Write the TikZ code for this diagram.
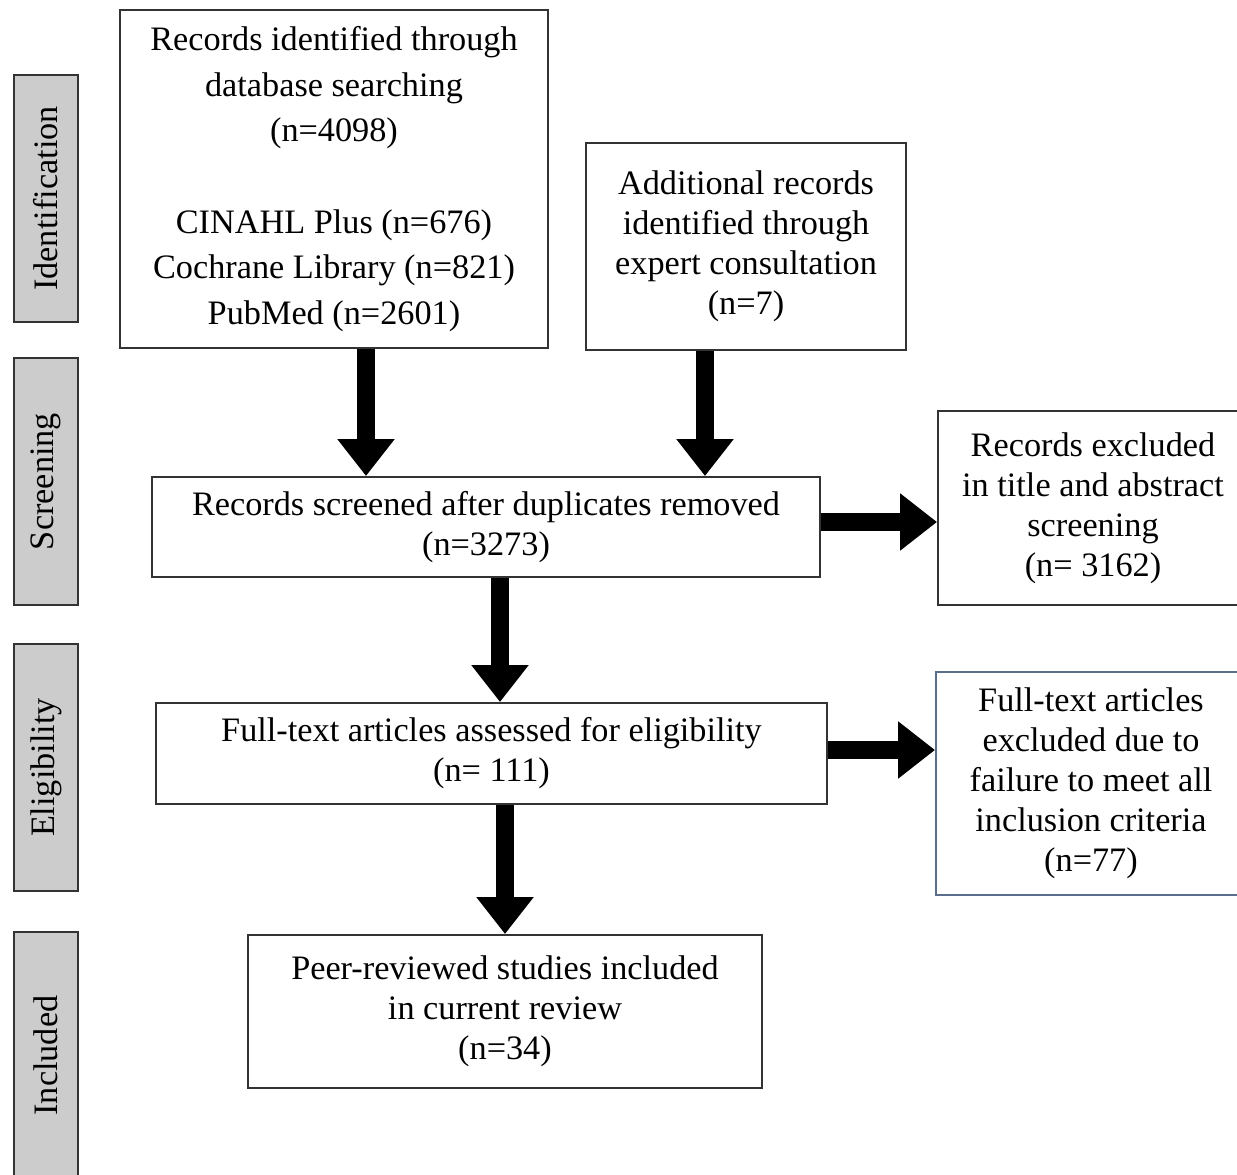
\documentclass[tikz,border=0pt]{standalone}
\usepackage{fontspec}
\setmainfont{Liberation Serif}
\usepackage{tikz}
\usetikzlibrary{arrows.meta, positioning, calc}
\definecolor{myEdge}{HTML}{333333}
\definecolor{myStage}{HTML}{CCCCCC}
\definecolor{mySlate}{HTML}{5A6E8C}

\begin{document}
\begin{tikzpicture}[
box/.style={rectangle, draw=myEdge, line width=1.1pt, align=center, font=\fontsize{19.5}{22.7}\selectfont, inner sep=0pt},
stage/.style={rectangle, draw=myEdge, fill=myStage, line width=1.1pt, rotate=90, font=\fontsize{19.5}{22.7}\selectfont, minimum width=4.94cm, minimum height=1.28cm, inner sep=0pt},
arrow/.style={-{Triangle[width=1.1cm, length=0.74cm]}, line width=0.36cm, black}
]
\useasboundingbox (0,0) rectangle (24.74,-23.5);

% stages
\node[stage] (ident) at (0.92,-3.97) {Identification};
\node[stage] (screen) at (0.92,-9.63) {Screening};
\node[stage] (elig) at (0.92,-15.35) {Eligibility};
\node[stage] (incl) at (0.92,-21.11) {Included};

% boxes
\node[box, minimum width=8.56cm, minimum height=6.76cm, font=\fontsize{19.5}{26}\selectfont] (db) at (6.68,-3.58)
  {Records identified through\\database searching\\(n=4098)\\[26pt]CINAHL Plus (n=676)\\Cochrane Library (n=821)\\PubMed (n=2601)};
\node[box, minimum width=6.4cm, minimum height=4.14cm] (expert) at (14.92,-4.93)
  {Additional records\\identified through\\expert consultation\\(n=7)};
\node[box, minimum width=13.36cm, minimum height=2.0cm] (scr) at (9.72,-10.54)
  {Records screened after duplicates removed\\(n=3273)};
\node[box, minimum width=6.2cm, minimum height=3.88cm] (excl) at (21.86,-10.16)
  {Records excluded\\in title and abstract\\screening\\(n= 3162)};
\node[box, minimum width=13.42cm, minimum height=2.02cm] (full) at (9.83,-15.07)
  {Full-text articles assessed for eligibility\\(n= 111)};
\node[box, draw=mySlate, minimum width=6.2cm, minimum height=4.46cm] (fullexcl) at (21.82,-15.67)
  {Full-text articles\\excluded due to\\failure to meet all\\inclusion criteria\\(n=77)};
\node[box, minimum width=10.28cm, minimum height=3.06cm] (peer) at (10.1,-20.23)
  {Peer-reviewed studies included\\in current review\\(n=34)};

% arrows
\draw[arrow] ([xshift=0.64cm]db.south) -- ([xshift=0.64cm]db.south |- scr.north);
\draw[arrow] ([xshift=-0.82cm]expert.south) -- ([xshift=-0.82cm]expert.south |- scr.north);
\draw[arrow] ([yshift=0.1cm]scr.east) -- ([yshift=0.1cm]scr.east -| excl.west);
\draw[arrow] ([xshift=0.28cm]scr.south) -- ([xshift=0.28cm]scr.south |- full.north);
\draw[arrow] ([yshift=0.07cm]full.east) -- ([yshift=0.07cm]full.east -| fullexcl.west);
\draw[arrow] (peer.north |- full.south) -- (peer.north);
\end{tikzpicture}
\end{document}
